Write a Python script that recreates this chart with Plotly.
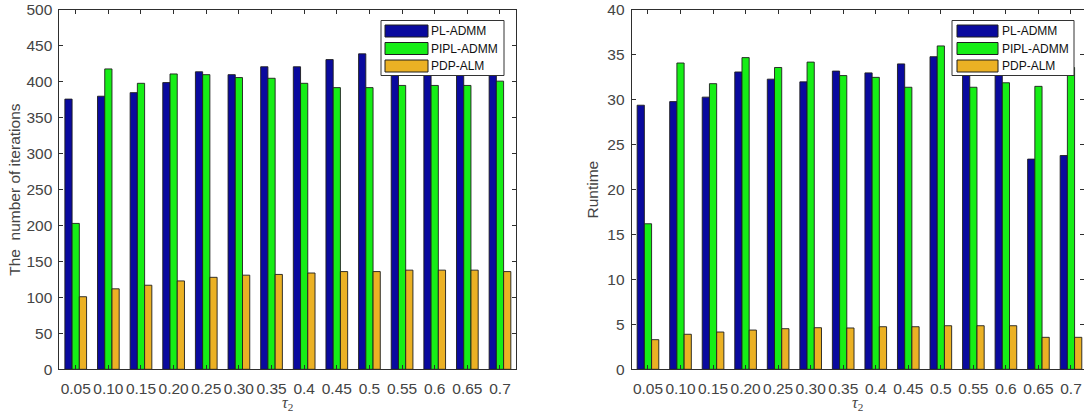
import plotly.graph_objects as go

# ---------------- data ----------------
tau2 = ["0.05", "0.10", "0.15", "0.20", "0.25", "0.30", "0.35",
        "0.4", "0.45", "0.5", "0.55", "0.6", "0.65", "0.7"]
series_names = ["PL-ADMM", "PIPL-ADMM", "PDP-ALM"]

iter_pl_admm = [376, 380, 385, 399, 414, 410, 421, 421, 431, 439, 444, 447, 449, 452]
iter_pipl_admm = [203, 418, 398, 411, 410, 406, 405, 398, 392, 392, 395, 395, 395, 401]
iter_pdp_alm = [101, 112, 117, 123, 128, 131, 132, 134, 136, 136, 138, 138, 138, 136]

time_pl_admm = [29.4, 29.8, 30.3, 33.1, 32.3, 32.0, 33.2, 33.0, 34.0, 34.8, 33.6, 33.4, 23.4, 23.8]
time_pipl_admm = [16.2, 34.1, 31.8, 34.7, 33.6, 34.2, 32.7, 32.5, 31.4, 36.0, 31.4, 31.9, 31.5, 33.6]
time_pdp_alm = [3.3, 3.9, 4.15, 4.37, 4.52, 4.63, 4.6, 4.74, 4.74, 4.85, 4.85, 4.85, 3.56, 3.56]

y_titles = ["The  number of iterations", "Runtime"]
x_title = "<i>τ</i><sub>2</sub>"

# ---------------- style ----------------
W, H = 1084, 415
colors = ["#0a0a9e", "#16ee16", "#ebb124"]
edge = "#1e1e1e"
axis_col = "#2e2e2e"
text_col = "#444444"
font_main = "Liberation Sans, Arial, sans-serif"


def px(x):
    return x / W


def py(y):
    return (H - y) / H


fig = go.Figure()

panels = [
    (iter_pl_admm, iter_pipl_admm, iter_pdp_alm, "x", "y"),
    (time_pl_admm, time_pipl_admm, time_pdp_alm, "x2", "y2"),
]
for vals_a, vals_b, vals_c, xa, ya in panels:
    for name, vals, col in zip(series_names, (vals_a, vals_b, vals_c), colors):
        fig.add_trace(go.Bar(
            x=tau2, y=vals, name=name, xaxis=xa, yaxis=ya,
            marker=dict(color=col, line=dict(color=edge, width=0.9)),
            showlegend=False, hoverinfo="skip",
        ))

ydom = [py(369.3), py(10)]
common_x = dict(type="category", showline=True, linecolor=axis_col, linewidth=1,
                mirror="allticks", ticks="inside", ticklen=4, tickcolor=axis_col,
                showgrid=False, zeroline=False, automargin=False,
                ticklabelstandoff=5,
                tickfont=dict(family=font_main, size=15.5, color=text_col))
common_y = dict(showline=True, linecolor=axis_col, linewidth=1,
                mirror="allticks", ticks="inside", ticklen=4, tickcolor=axis_col,
                showgrid=False, zeroline=False, automargin=False,
                ticklabelstandoff=3,
                tickfont=dict(family=font_main, size=15.5, color=text_col))

fig.update_layout(
    width=W, height=H,
    margin=dict(l=0, r=0, t=0, b=0),
    paper_bgcolor="white", plot_bgcolor="white",
    barmode="group", bargap=0.335, bargroupgap=0,
    xaxis=dict(common_x, domain=[px(59.4), px(516.3)], anchor="y",
               range=[-0.5, 13.5]),
    xaxis2=dict(common_x, domain=[px(631.7), 1.0], anchor="y2",
                range=[-0.5, 13.4]),
    yaxis=dict(common_y, domain=ydom, anchor="x", range=[0, 500], dtick=50,
               title=dict(text=y_titles[0], standoff=1,
                          font=dict(family=font_main, size=15.5, color=text_col))),
    yaxis2=dict(common_y, domain=ydom, anchor="x2", range=[0, 40], dtick=5,
                title=dict(text=y_titles[1], standoff=4,
                           font=dict(family=font_main, size=15.5, color=text_col))),
    showlegend=False,
)

shapes = []
annotations = []

# x-axis titles (tau_2), centred under each axes box
for xref in ("x domain", "x2 domain"):
    annotations.append(dict(xref=xref, yref="paper", x=0.5, y=py(414),
                            xanchor="center", yanchor="bottom", showarrow=False,
                            text=x_title, borderpad=0,
                            font=dict(family="Liberation Serif, Times New Roman, serif",
                                      size=16, color=text_col)))

# ---------------- custom legends (MATLAB style) ----------------
legend_boxes = [
    dict(x0=381, x1=504, y0=20.5, y1=75.5, sw0=385, sw1=428, tx=430),
    dict(x0=952, x1=1074, y0=20.5, y1=75.5, sw0=957, sw1=998, tx=1001),
]
row_centers = [31, 48.5, 66]
for lb in legend_boxes:
    shapes.append(dict(type="rect", xref="paper", yref="paper", layer="above",
                       x0=px(lb["x0"]), x1=px(lb["x1"]),
                       y0=py(lb["y1"]), y1=py(lb["y0"]),
                       fillcolor="white", line=dict(color="#333333", width=1)))
    for name, col, yc in zip(series_names, colors, row_centers):
        shapes.append(dict(type="rect", xref="paper", yref="paper", layer="above",
                           x0=px(lb["sw0"]), x1=px(lb["sw1"]),
                           y0=py(yc + 6), y1=py(yc - 6),
                           fillcolor=col, line=dict(color=edge, width=1)))
        annotations.append(dict(xref="paper", yref="paper", x=px(lb["tx"]), y=py(yc),
                                xanchor="left", yanchor="middle", showarrow=False,
                                text=name, borderpad=0,
                                font=dict(family=font_main, size=12, color="#111111")))

fig.update_layout(shapes=shapes, annotations=annotations)

fig.write_html(
    "out.html",
    config={"displayModeBar": False},
    post_script="document.body.style.margin='0';document.body.style.overflow='hidden';",
)
